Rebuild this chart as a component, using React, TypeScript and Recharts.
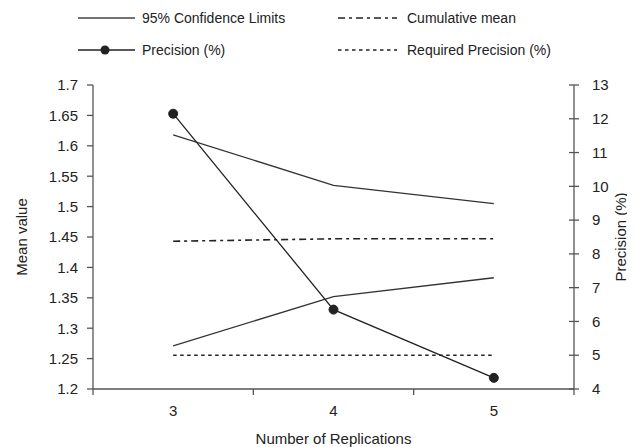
import React from 'react';
import { LineChart, Line, XAxis, YAxis, Legend } from 'recharts';

const replications = [3, 4, 5];
const upperLimit = [1.618, 1.535, 1.505];
const lowerLimit = [1.271, 1.352, 1.383];
const cumulativeMean = [1.443, 1.447, 1.447];
const precision = [12.15, 6.35, 4.33];
const requiredPrecision = [5, 5, 5];

const meanTicks = [1.2, 1.25, 1.3, 1.35, 1.4, 1.45, 1.5, 1.55, 1.6, 1.65, 1.7];
const precisionTicks = [4, 5, 6, 7, 8, 9, 10, 11, 12, 13];
const bandTicks = [2.5, 3.5, 4.5, 5.5];

const data = replications.map((n, i) => ({
  n,
  upper: upperLimit[i],
  lower: lowerLimit[i],
  mean: cumulativeMean[i],
  precision: precision[i],
  required: requiredPrecision[i],
}));

const FONT = '"Liberation Sans", Arial, sans-serif';
const INK = '#222';
const AXIS = '#555';

const LegendBox = () => (
  <svg width={627} height={64} style={{ fontFamily: FONT, fontSize: 14 }}>
    <line x1={70} x2={127} y1={10} y2={10} stroke="#444" strokeWidth={1.3} />
    <text x={134} y={15} fill={INK}>95% Confidence Limits</text>
    <line x1={330} x2={389} y1={10} y2={10} stroke={INK} strokeWidth={1.6} strokeDasharray="7 4 3 4" />
    <text x={399} y={15} fill={INK}>Cumulative mean</text>
    <line x1={70} x2={127} y1={42} y2={42} stroke={INK} strokeWidth={1.3} />
    <circle cx={97} cy={42} r={4.5} fill={INK} />
    <text x={134} y={47} fill={INK}>Precision (%)</text>
    <line x1={330} x2={389} y1={42} y2={42} stroke={INK} strokeWidth={1.6} strokeDasharray="3.5 3.5" />
    <text x={399} y={47} fill={INK}>Required Precision (%)</text>
  </svg>
);

const fmt = (v: number) => String(Number(v.toFixed(2)));

const RightTick = (props: any) => {
  const { x, y, payload } = props;
  return (
    <g>
      <line x1={x - 23} x2={x - 13} y1={y} y2={y} stroke={AXIS} strokeWidth={1.3} />
      <text x={x} y={y} dy="0.35em" textAnchor="start" fill={INK} fontSize={15} fontFamily={FONT}>
        {payload.value}
      </text>
    </g>
  );
};

const App = () => {
  return (
    <div style={{ width: 627, height: 439 }}>
      <style>{'html, body { overflow: hidden; }'}</style>
      <LineChart
        width={627}
        height={439}
        data={data}
        margin={{ top: 77, right: 0, bottom: 0, left: 0 }}
      >
        <Legend
          verticalAlign="middle"
          align="center"
          wrapperStyle={{ top: 0, left: 0, width: 627 }}
          content={() => <LegendBox />}
        />
        <XAxis
          xAxisId="grid"
          dataKey="n"
          type="number"
          domain={[2.5, 5.5]}
          ticks={bandTicks}
          tickFormatter={() => ''}
          height={1}
          tickSize={6}
          stroke={AXIS}
          strokeWidth={1.3}
        />
        <XAxis
          xAxisId="labels"
          dataKey="n"
          type="number"
          domain={[2.5, 5.5]}
          ticks={replications}
          height={57}
          axisLine={false}
          tickLine={false}
          tickSize={0}
          tickMargin={15}
          tick={{ fill: INK, fontSize: 15, fontFamily: FONT }}
          label={{
            value: 'Number of Replications',
            position: 'insideBottom',
            offset: 3,
            fill: INK,
            fontSize: 15,
            fontFamily: FONT,
          }}
        />
        <YAxis
          yAxisId="mean"
          width={85}
          domain={[1.2, 1.7]}
          ticks={meanTicks}
          tickFormatter={fmt}
          tickSize={6}
          tickMargin={9}
          stroke={AXIS}
          strokeWidth={1.3}
          tick={{ fill: INK, fontSize: 15, fontFamily: FONT }}
          label={(p: any) => {
            const vb = p.viewBox;
            const cy = vb.y + vb.height / 2;
            return (
              <text x={13} y={cy} transform={`rotate(-90 13 ${cy})`} textAnchor="middle" dominantBaseline="central" fill={INK} fontSize={15} fontFamily={FONT}>
                Mean value
              </text>
            );
          }}
        />
        <YAxis
          yAxisId="prec"
          orientation="right"
          width={61}
          domain={[4, 13]}
          ticks={precisionTicks}
          tickLine={false}
          tickSize={0}
          tickMargin={18}
          stroke={AXIS}
          strokeWidth={1.3}
          tick={<RightTick />}
          label={{
            value: 'Precision (%)',
            position: 'insideRight',
            angle: -90,
            offset: 14,
            textAnchor: 'middle',
            fill: INK,
            fontSize: 15,
            fontFamily: FONT,
          }}
        />
        <Line xAxisId="grid" yAxisId="mean" dataKey="upper" stroke="#333" strokeWidth={1.3} dot={false} isAnimationActive={false} />
        <Line xAxisId="grid" yAxisId="mean" dataKey="lower" stroke="#333" strokeWidth={1.3} dot={false} isAnimationActive={false} />
        <Line xAxisId="grid" yAxisId="mean" dataKey="mean" stroke={INK} strokeWidth={1.6} strokeDasharray="7 4 3 4" dot={false} isAnimationActive={false} />
        <Line xAxisId="grid" yAxisId="prec" dataKey="required" stroke={INK} strokeWidth={1.6} strokeDasharray="3.5 3.5" dot={false} isAnimationActive={false} />
        <Line
          xAxisId="grid"
          yAxisId="prec"
          dataKey="precision"
          stroke={INK}
          strokeWidth={1.3}
          dot={{ r: 4.5, fill: INK, stroke: INK, strokeWidth: 1 }}
          isAnimationActive={false}
        />
      </LineChart>
    </div>
  );
};

export default App;
